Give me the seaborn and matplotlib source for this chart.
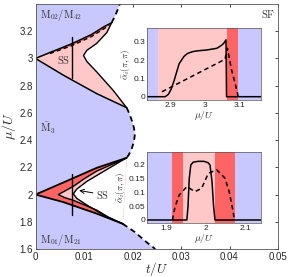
import numpy as np
import matplotlib
matplotlib.use("Agg")
import matplotlib.pyplot as plt
import seaborn as sns

# ---------------- data ----------------
# main phase diagram: boundaries as (t/U, mu/U)
top_lobe_dash_t = [0.0157, 0.0160, 0.0164, 0.0169, 0.0174]
top_lobe_dash_mu = [3.262, 3.285, 3.31, 3.355, 3.40]

ss_top_solid_t = [0.0, 0.003, 0.0075, 0.0115, 0.0143, 0.0157]
ss_top_solid_mu = [3.0, 3.044, 3.108, 3.175, 3.237, 3.262]
ss_top_dash_t = [0.003, 0.0075, 0.0115, 0.0143, 0.0152]
ss_top_dash_mu = [3.036, 3.094, 3.160, 3.222, 3.245]

cusp_top_t = [0.0157, 0.0147, 0.0126, 0.0106, 0.0099, 0.0106, 0.0126, 0.0160, 0.0188]
cusp_top_mu = [3.262, 3.19, 3.11, 3.06, 3.022, 2.977, 2.902, 2.766, 2.638]

m3_upper_t = [0.0, 0.0057, 0.0126, 0.0188]
m3_upper_mu = [3.0, 2.878, 2.742, 2.638]
m3_dash_t = [0.0188, 0.0194, 0.0199, 0.0203, 0.0205, 0.0203, 0.0198, 0.0192, 0.0188]
m3_dash_mu = [2.638, 2.59, 2.54, 2.49, 2.444, 2.39, 2.332, 2.29, 2.27]
m3_lower_t = [0.0, 0.0057, 0.0126, 0.0188]
m3_lower_mu = [2.0, 2.088, 2.196, 2.27]

inner_t = [0.0188, 0.0147, 0.0126, 0.0100, 0.0078, 0.0060, 0.0047, 0.0060, 0.0078, 0.0100, 0.0126, 0.0150, 0.0180]
inner_mu = [2.27, 2.205, 2.172, 2.115, 2.06, 2.025, 2.0, 1.978, 1.958, 1.925, 1.886, 1.835, 1.785]
cusp_low_t = [0.0188, 0.0147, 0.0106, 0.0085, 0.0078, 0.0085, 0.0106, 0.0147, 0.0180]
cusp_low_mu = [2.27, 2.184, 2.097, 2.04, 2.005, 1.972, 1.923, 1.836, 1.785]

low_lobe_t = [0.0, 0.0057, 0.0126, 0.0180]
low_lobe_mu = [2.0, 1.945, 1.86, 1.785]
low_lobe_dash_t = [0.0180, 0.0205, 0.0229, 0.0247]
low_lobe_dash_mu = [1.785, 1.724, 1.65, 1.60]

t_cut = 0.0075
cut_ranges = [(2.855, 3.155), (1.85, 2.15)]

# insets
up_solid_mu = [2.835, 2.886, 2.895, 2.903, 2.912, 2.926, 2.94, 2.95, 2.965, 2.978, 3.006, 3.034, 3.047, 3.053, 3.06, 3.0615, 3.16]
up_solid_val = [0.0, 0.0, 0.012, 0.04, 0.09, 0.18, 0.22, 0.236, 0.246, 0.25, 0.255, 0.264, 0.28, 0.29, 0.31, 0.0, 0.0]
up_dash_mu = [2.877, 3.057, 3.064, 3.076, 3.086, 3.095]
up_dash_val = [0.027, 0.204, 0.264, 0.145, 0.073, 0.0]
up_bands = [2.866, 3.062, 3.095]  # blue | pink | red | blue

lo_solid_mu = [1.853, 1.952, 1.955, 1.958, 1.962, 1.968, 1.98, 1.995, 2.005, 2.01, 2.015, 2.019, 2.0225, 2.137]
lo_solid_val = [0.0, 0.0, 0.05, 0.15, 0.2, 0.21, 0.213, 0.213, 0.208, 0.2, 0.14, 0.05, 0.0, 0.0]
lo_dash_mu = [1.916, 1.9225, 1.933, 1.952, 1.9725, 1.989, 2.006, 2.027, 2.0475, 2.058, 2.068, 2.071]
lo_dash_val = [0.0, 0.048, 0.091, 0.121, 0.103, 0.115, 0.17, 0.182, 0.152, 0.103, 0.03, 0.0]
lo_bands = [1.914, 1.943, 2.0225, 2.0725]  # blue | red | pink | red | blue

BLUE = "#c8c8ff"
PINK = "#ffc8c8"
RED = "#ff6464"

# ---------------- style ----------------
sns.set_style("ticks")
plt.rcParams["font.family"] = ["Liberation Sans", "DejaVu Sans"]
plt.rcParams["mathtext.fontset"] = "cm"
plt.rcParams["xtick.direction"] = "in"
plt.rcParams["ytick.direction"] = "in"

fig = plt.figure(figsize=(2.91, 2.77), dpi=100)
ax = fig.add_axes([35.5 / 291, 1 - 249 / 277, (278 - 35.5) / 291, (249 - 4) / 277])


def cat(*parts):
    return np.concatenate([np.asarray(p, float) for p in parts])


# blue lobes
ax.fill(cat([0.0], top_lobe_dash_t[::-1], ss_top_solid_t[::-1]),
        cat([3.4], top_lobe_dash_mu[::-1], ss_top_solid_mu[::-1]), color=BLUE, lw=0)
ax.fill(cat(m3_upper_t, m3_dash_t[1:], m3_lower_t[::-1][1:]),
        cat(m3_upper_mu, m3_dash_mu[1:], m3_lower_mu[::-1][1:]), color=BLUE, lw=0)
ax.fill(cat(low_lobe_t, low_lobe_dash_t[1:], [0.0]),
        cat(low_lobe_mu, low_lobe_dash_mu[1:], [1.6]), color=BLUE, lw=0)

# upper SS region
ax.fill(cat(ss_top_solid_t, cusp_top_t[1:], m3_upper_t[::-1][1:]),
        cat(ss_top_solid_mu, cusp_top_mu[1:], m3_upper_mu[::-1][1:]), color=PINK, lw=0)
ax.fill(cat(ss_top_solid_t[1:-1], ss_top_dash_t[::-1]),
        cat(ss_top_solid_mu[1:-1], ss_top_dash_mu[::-1]), color=RED, lw=0)

# lower SS region
ax.fill(cat(m3_lower_t, low_lobe_t[::-1]), cat(m3_lower_mu, low_lobe_mu[::-1]), color=RED, lw=0)
ax.fill(inner_t, inner_mu, color=PINK, lw=0)
ax.fill(cusp_low_t, cusp_low_mu, color="white", lw=0)


def line(x, y, ls="-", lw=1.0):
    sns.lineplot(x=x, y=y, sort=False, estimator=None, color="black",
                 linestyle=ls, linewidth=lw, ax=ax)


dash = (0, (3.0, 2.2))
line(ss_top_solid_t, ss_top_solid_mu, lw=1.1)
line(ss_top_dash_t, ss_top_dash_mu, ls=dash, lw=1.0)
line(top_lobe_dash_t, top_lobe_dash_mu, ls=dash, lw=1.3)
line(cusp_top_t, cusp_top_mu, lw=1.0)
line(m3_upper_t, m3_upper_mu, lw=1.1)
line(m3_dash_t, m3_dash_mu, ls=dash, lw=1.3)
line(m3_lower_t, m3_lower_mu, lw=1.3)
line(inner_t, inner_mu, lw=1.0)
line(cusp_low_t, cusp_low_mu, lw=1.0)
line(low_lobe_t, low_lobe_mu, lw=1.3)
line(low_lobe_dash_t, low_lobe_dash_mu, ls=dash, lw=1.3)
for lo, hi in cut_ranges:
    line([t_cut, t_cut], [lo, hi], lw=1.0)

ax.set_xlim(0, 0.05)
ax.set_ylim(1.6, 3.4)
xt = [0, 0.01, 0.02, 0.03, 0.04, 0.05]
ax.set_xticks(xt)
ax.set_xticklabels(["0", "0.01", "0.02", "0.03", "0.04", "0.05"])
yt = [1.6, 1.8, 2.0, 2.2, 2.4, 2.6, 2.8, 3.0, 3.2]
ax.set_yticks(yt)
ax.set_yticklabels(["1.6", "1.8", "2", "2.2", "2.4", "2.6", "2.8", "3", "3.2"])
ax.tick_params(labelsize=7, length=2.5, width=0.6, top=True, right=True, pad=2)
for s in ax.spines.values():
    s.set_linewidth(0.6)
    s.set_color("#555555")
ax.set_xlabel(r"$t/U$", fontsize=9.5, labelpad=-1.5)
ax.set_ylabel(r"$\mu/U$", fontsize=10, labelpad=1)

tk = dict(fontsize=7.5, color="#333333", family="DejaVu Serif")
ax.text(0.0009, 3.318, r"$\mathrm{M}_{02}/\mathrm{M}_{42}$", va="center", ha="left", **tk)
ax.text(0.0009, 1.668, r"$\mathrm{M}_{01}/\mathrm{M}_{21}$", va="center", ha="left", **tk)
ax.text(0.0010, 2.49, r"$\bar{\mathrm{M}}_{3}$", va="center", ha="left", **tk)
ax.text(0.0058, 2.99, r"$\mathrm{SS}$", va="center", ha="center", **tk)
ax.text(0.0495, 3.33, r"$\mathrm{SF}$", va="center", ha="right", **tk)
ax.annotate(r"$\mathrm{SS}$", xy=(0.0090, 2.03), xytext=(0.0125, 2.0),
            va="center", ha="left", fontsize=7.5, color="#333333",
            arrowprops=dict(arrowstyle="->", color="black", lw=0.7, shrinkA=0, shrinkB=0))


def inset(rect, xlim, ylim, bands, colors, solid, dashed, xt, xtl, yt, ytl):
    ia = fig.add_axes(rect)
    edges = [xlim[0]] + list(bands) + [xlim[1]]
    for a, b, c in zip(edges[:-1], edges[1:], colors):
        ia.axvspan(a, b, color=c, lw=0)
    sns.lineplot(x=solid[0], y=solid[1], sort=False, estimator=None, color="black",
                 linewidth=1.1, ax=ia)
    sns.lineplot(x=dashed[0], y=dashed[1], sort=False, estimator=None, color="black",
                 linewidth=1.1, linestyle=(0, (3.0, 2.2)), ax=ia)
    ia.set_xlim(*xlim)
    ia.set_ylim(*ylim)
    ia.set_xticks(xt)
    ia.set_xticklabels(xtl)
    ia.set_yticks(yt)
    ia.set_yticklabels(ytl)
    ia.tick_params(labelsize=6, length=1.5, width=0.5, pad=1.5)
    for s in ia.spines.values():
        s.set_linewidth(0.5)
        s.set_color("#555555")
    ia.set_xlabel(r"$\mu/U$", fontsize=7, labelpad=0)
    ia.set_ylabel(r"$\bar{\alpha}_i(\pi,\pi)$", fontsize=6.5, labelpad=1)
    return ia


inset([147.3 / 291, 1 - 100 / 277, (261 - 147.3) / 291, 71.7 / 277],
      (2.835, 3.16), (-0.018, 0.373), up_bands, [BLUE, PINK, RED, BLUE],
      (up_solid_mu, up_solid_val), (up_dash_mu, up_dash_val),
      [2.9, 3.0, 3.1], ["2.9", "3", "3.1"], [0, 0.1, 0.2, 0.3], ["0", "0.1", "0.2", "0.3"])
inset([147.3 / 291, 1 - 223.3 / 277, (260.7 - 147.3) / 291, 71.6 / 277],
      (1.853, 2.137), (-0.012, 0.248), lo_bands, [BLUE, RED, PINK, RED, BLUE],
      (lo_solid_mu, lo_solid_val), (lo_dash_mu, lo_dash_val),
      [1.9, 2.0, 2.1], ["1.9", "2", "2.1"], [0, 0.05, 0.1, 0.15, 0.2],
      ["0", "0.05", "0.1", "0.15", "0.2"])

fig.savefig("out.png", dpi=100)
